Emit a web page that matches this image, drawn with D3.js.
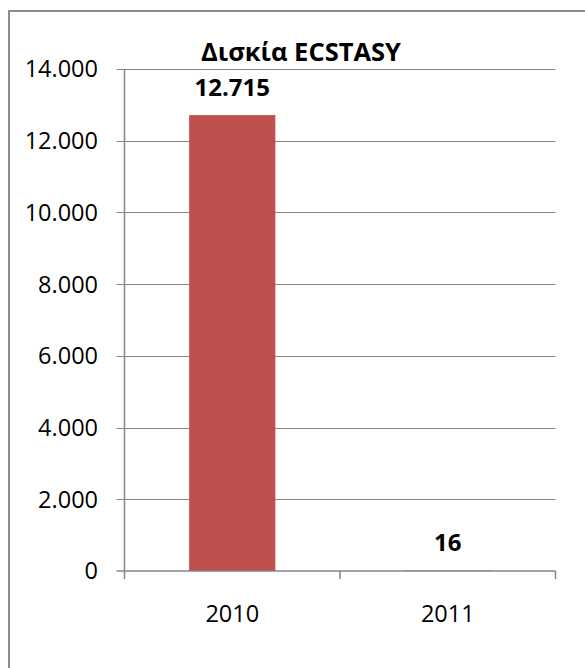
<!DOCTYPE html>
<html>
<head>
<meta charset="utf-8">
<script src="https://cdn.jsdelivr.net/npm/d3@7"></script>
<style>
  body { margin: 0; background: #fff; }
  svg { display: block; font-family: "Open Sans", "Noto Sans", sans-serif; }
</style>
</head>
<body>
<div id="chart"></div>
<script>
// data
var years = ["2010", "2011"];
var tablets = [12715, 16];
var yTicks = [0, 2000, 4000, 6000, 8000, 10000, 12000, 14000];
var chartTitle = "Δισκία ECSTASY";

var svgWidth = 585;
var svgHeight = 668;

var plot = { left: 124.5, right: 555.5, top: 69, bottom: 571 };

var grLocale = d3.formatLocale({ decimal: ",", thousands: ".", grouping: [3], currency: ["", "€"] });
var fmt = grLocale.format(",d");

var svg = d3.select("#chart").append("svg")
    .attr("width", svgWidth)
    .attr("height", svgHeight);

// outer frame (runs off the right and bottom edges)
svg.append("rect")
    .attr("x", 9)
    .attr("y", 11)
    .attr("width", 600)
    .attr("height", 700)
    .attr("fill", "none")
    .attr("stroke", "#8c8c8c")
    .attr("stroke-width", 2);

var yScale = d3.scaleLinear()
    .domain([0, 14000])
    .range([plot.bottom, plot.top]);

var xScale = d3.scaleBand()
    .domain(years)
    .range([plot.left, plot.right])
    .padding(0);

// bar width: excel gap width 150%
var barW = xScale.bandwidth() / 2.5;

// gridlines + left ticks
svg.append("g")
  .selectAll("line")
  .data(yTicks.filter(function(d) { return d > 0; }))
  .enter()
  .append("line")
    .attr("x1", plot.left - 8)
    .attr("x2", plot.right)
    .attr("y1", function(d) { return Math.round(yScale(d)) + 0.5; })
    .attr("y2", function(d) { return Math.round(yScale(d)) + 0.5; })
    .attr("stroke", "#868686")
    .attr("stroke-width", 1);

// y tick labels
svg.append("g")
  .selectAll("text")
  .data(yTicks)
  .enter()
  .append("text")
    .attr("x", 98)
    .attr("y", function(d) { return yScale(d); })
    .attr("dy", "0.36em")
    .attr("text-anchor", "end")
    .attr("font-size", 23.5)
    .attr("fill", "#000")
    .text(function(d) { return fmt(d); });

// bars
svg.append("g")
  .selectAll("rect")
  .data(tablets)
  .enter()
  .append("rect")
    .attr("x", function(d, i) { return xScale(years[i]) + (xScale.bandwidth() - barW) / 2; })
    .attr("y", function(d) { return yScale(d); })
    .attr("width", barW)
    .attr("height", function(d) { return plot.bottom - yScale(d); })
    .attr("fill", "#C0504D");

// y axis line
svg.append("line")
    .attr("x1", plot.left).attr("x2", plot.left)
    .attr("y1", plot.top).attr("y2", plot.bottom)
    .attr("stroke", "#868686")
    .attr("stroke-width", 1.5);

// x axis line and ticks
svg.append("line")
    .attr("x1", plot.left - 8).attr("x2", plot.right)
    .attr("y1", plot.bottom).attr("y2", plot.bottom)
    .attr("stroke", "#868686")
    .attr("stroke-width", 1.5);

var bounds = years.map(function(d) { return xScale(d); }).concat([plot.right]);
svg.append("g")
  .selectAll("line")
  .data(bounds)
  .enter()
  .append("line")
    .attr("x1", function(d) { return d; })
    .attr("x2", function(d) { return d; })
    .attr("y1", plot.bottom)
    .attr("y2", plot.bottom + 8)
    .attr("stroke", "#868686")
    .attr("stroke-width", 1.5);

// category labels
svg.append("g")
  .selectAll("text")
  .data(years)
  .enter()
  .append("text")
    .attr("x", function(d) { return xScale(d) + xScale.bandwidth() / 2; })
    .attr("y", 622)
    .attr("text-anchor", "middle")
    .attr("font-size", 23.5)
    .attr("fill", "#000")
    .text(function(d) { return d; });

// value labels
svg.append("g")
  .selectAll("text")
  .data(tablets)
  .enter()
  .append("text")
    .attr("x", function(d, i) { return xScale(years[i]) + xScale.bandwidth() / 2; })
    .attr("y", function(d) { return yScale(d) - 19; })
    .attr("text-anchor", "middle")
    .attr("font-size", 24)
    .attr("font-weight", "bold")
    .attr("fill", "#000")
    .text(function(d) { return fmt(d); });

// title
svg.append("text")
    .attr("x", 301)
    .attr("y", 61)
    .attr("text-anchor", "middle")
    .attr("font-size", 25.5)
    .attr("font-weight", "bold")
    .attr("fill", "#000")
    .text(chartTitle);
</script>
</body>
</html>
